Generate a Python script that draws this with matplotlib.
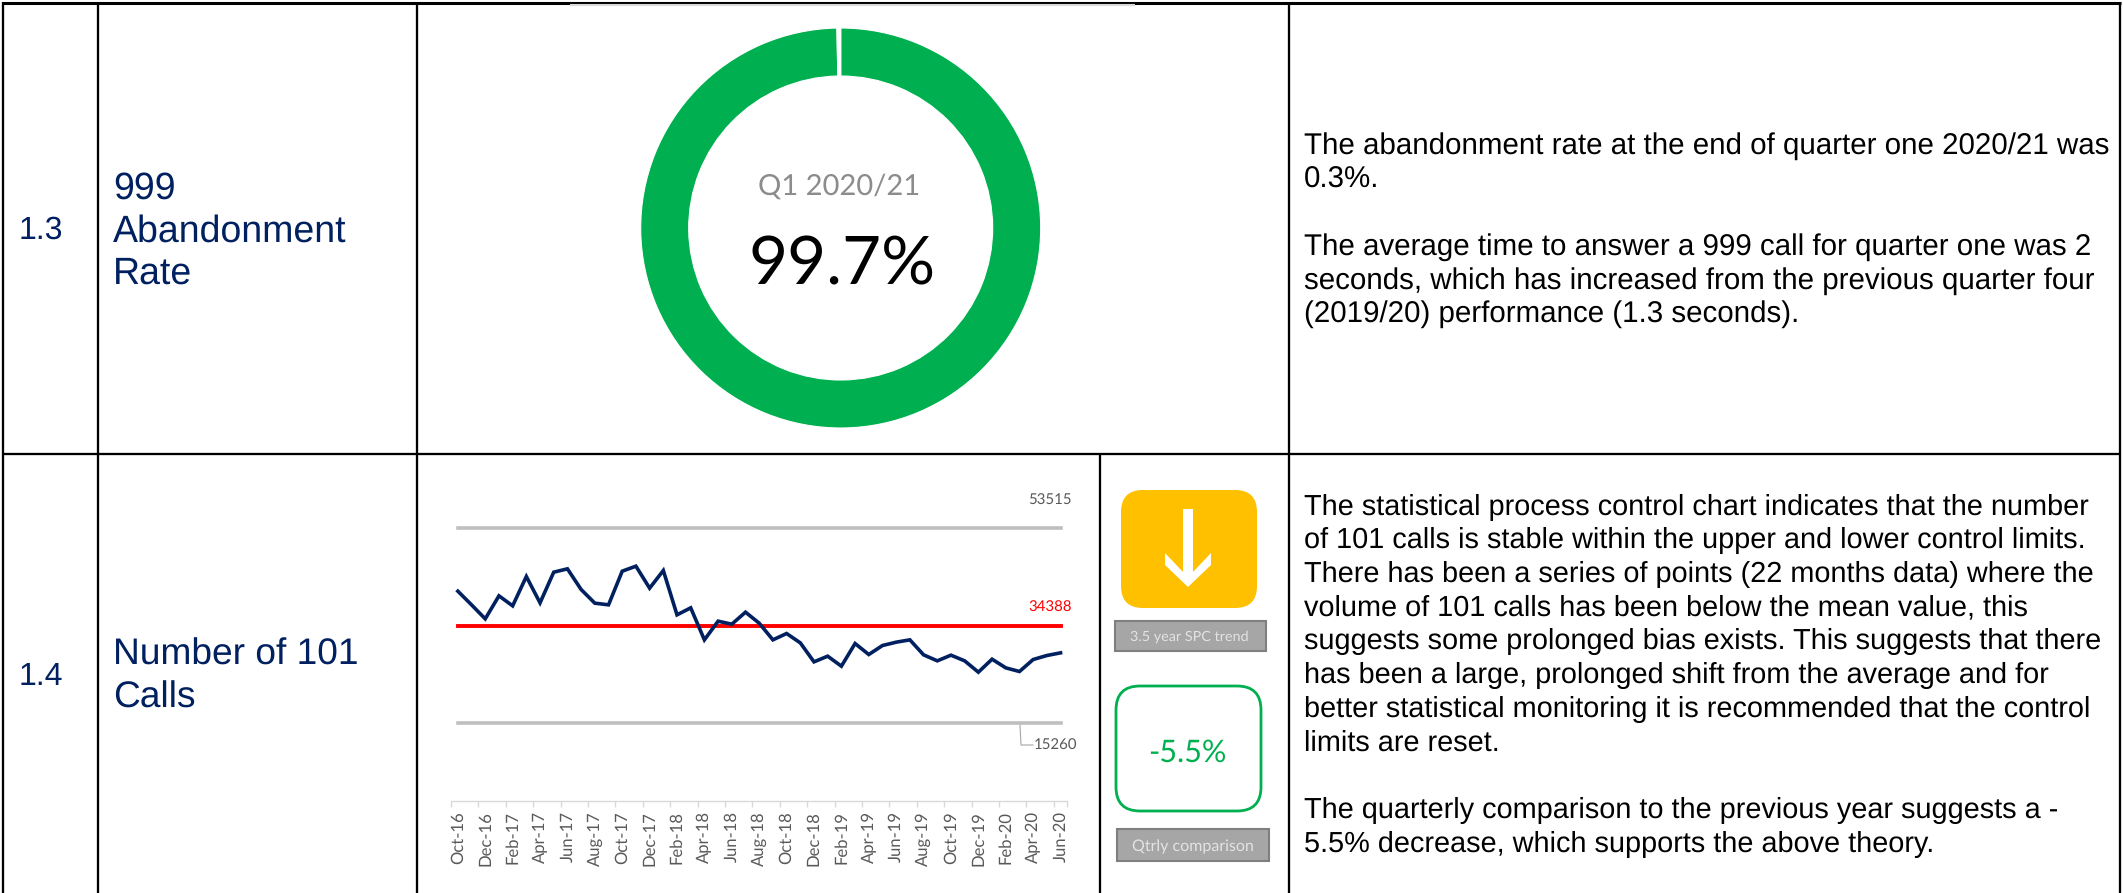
import matplotlib
matplotlib.use("Agg")
import matplotlib.pyplot as plt
from matplotlib.patches import FancyBboxPatch, Rectangle, Polygon

plt.rcParams["text.hinting"] = "no_hinting"

W, H = 2123, 893
NAVY = "#002060"
GREEN = "#00B050"

months = ["Oct-16","Nov-16","Dec-16","Jan-17","Feb-17","Mar-17","Apr-17","May-17","Jun-17","Jul-17","Aug-17","Sep-17",
          "Oct-17","Nov-17","Dec-17","Jan-18","Feb-18","Mar-18","Apr-18","May-18","Jun-18","Jul-18","Aug-18","Sep-18",
          "Oct-18","Nov-18","Dec-18","Jan-19","Feb-19","Mar-19","Apr-19","May-19","Jun-19","Jul-19","Aug-19","Sep-19",
          "Oct-19","Nov-19","Dec-19","Jan-20","Feb-20","Mar-20","Apr-20","May-20","Jun-20"]
calls = [41124,38443,35696,40209,38247,44002,38835,44852,45506,41451,38770,38443,
         45048,46029,41713,45179,36481,37854,31576,35238,34650,37004,34846,31576,
         32818,30987,27259,28371,26409,30856,28698,30464,31118,31576,28633,27456,
         28567,27456,25232,27783,26082,25363,27717,28502,29025]
ucl = 53515
mean = 34388
lcl = 15260
donut_values = [99.7, 0.3]
donut_period = "Q1 2020/21"
qtr_change = "-5.5%"
trend_label = "3.5 year SPC trend"
qtr_label = "Qtrly comparison"

row_13_number = "1.3"
row_13_title = ["999", "Abandonment", "Rate"]
row_13_text = ["The abandonment rate at the end of quarter one 2020/21 was", "0.3%.", "",
               "The average time to answer a 999 call for quarter one was 2",
               "seconds, which has increased from the previous quarter four",
               "(2019/20) performance (1.3 seconds)."]
row_14_number = "1.4"
row_14_title = ["Number of 101", "Calls"]
row_14_text = ["The statistical process control chart indicates that the number",
               "of 101 calls is stable within the upper and lower control limits.",
               "There has been a series of points (22 months data) where the",
               "volume of 101 calls has been below the mean value, this",
               "suggests some prolonged bias exists. This suggests that there",
               "has been a large, prolonged shift from the average and for",
               "better statistical monitoring it is recommended that the control",
               "limits are reset.", "",
               "The quarterly comparison to the previous year suggests a -",
               "5.5% decrease, which supports the above theory."]

fig = plt.figure(figsize=(W / 100, H / 100), dpi=100, facecolor="white")


def px_axes(x0, y0, x1, y1, **kw):
    return fig.add_axes([x0 / W, 1 - y1 / H, (x1 - x0) / W, (y1 - y0) / H], **kw)


ov = fig.add_axes([0, 0, 1, 1])
ov.set_xlim(0, W)
ov.set_ylim(H, 0)
ov.axis("off")

# table rules
lw = 1.65
ov.plot([2, 2121], [3, 3], color="black", lw=2.2, solid_capstyle="butt")
ov.plot([570, 1135], [4.5, 4.5], color="#d9d9d9", lw=1.5, solid_capstyle="butt")
ov.plot([2, 2121], [454, 454], color="black", lw=lw, solid_capstyle="butt")
for x in (3, 98, 417, 1289, 2120):
    ov.plot([x, x], [2, H], color="black", lw=lw, solid_capstyle="butt")
ov.plot([1100, 1100], [454, H], color="black", lw=lw, solid_capstyle="butt")

ARIAL = "Liberation Sans"


def t(x, y, s, size, color="black", family=ARIAL, ha="left"):
    ov.text(x, y, s, fontsize=size, color=color, family=family, ha=ha, va="baseline")


t(19, 239, row_13_number, 23, NAVY)
t(19, 685, row_14_number, 23, NAVY)
for y, s in zip((199, 241.5, 284), row_13_title):
    t(113, y, s, 27, NAVY)
for y, s in zip((665, 708), row_14_title):
    t(113, y, s, 26.7, NAVY)
for y, s in zip((154, 188, 221, 255, 289, 322), row_13_text):
    t(1304, y, s, 21.25)
for y, s in zip((515, 548, 581.7, 615.7, 649.3, 683.3, 716.7, 751, 785, 818.3, 852.3), row_14_text):
    t(1304, y, s, 20.8)

# donut
ad = px_axes(640.7, 28, 1040.7, 428)
ad.pie(donut_values, colors=[GREEN, "white"], startangle=90, counterclock=False, radius=1,
       wedgeprops=dict(width=0.24, edgecolor="white", linewidth=0.8))
ad.set_xlim(-1, 1)
ad.set_ylim(-1, 1)
ad.set_aspect("equal")
t(839, 195, donut_period, 21, "#8c8c8c", "Lato", "center")
t(842.5, 284, f"{donut_values[0]}%", 48.5, "black", "Lato", "center")

# SPC chart: axis zero sits on the category axis line
x_pos = list(range(len(months)))
px_per_value = (723 - 528) / (ucl - lcl)
y_max = 60000
ac = px_axes(451, 800.8 - y_max * px_per_value, 1067.4, 800.8)
ac.patch.set_alpha(0)
ac.set_xlim(-0.5, len(months) - 0.5)
ac.set_ylim(0, y_max)
ac.plot(x_pos, [ucl] * len(months), color="#bfbfbf", lw=2.6)
ac.plot(x_pos, [lcl] * len(months), color="#bfbfbf", lw=2.6)
ac.plot(x_pos, [mean] * len(months), color="#ff0000", lw=2.8)
ac.plot(x_pos, calls, color=NAVY, lw=2.6, solid_joinstyle="miter")
for s in ("top", "left", "right"):
    ac.spines[s].set_visible(False)
ac.spines["bottom"].set_color("#d9d9d9")
ac.spines["bottom"].set_linewidth(1)
ac.set_yticks([])
ac.set_xticks(x_pos[::2])
ac.set_xticklabels(months[::2], rotation=90, fontsize=12, color="#595959", family="Lato")
ac.tick_params(axis="x", which="major", length=0, pad=7.5)
ac.set_xticks([p - 0.5 for p in x_pos[::2]] + [x_pos[-1] + 0.5], minor=True)
ac.tick_params(axis="x", which="minor", length=4.5, width=1, color="#d9d9d9")

t(1072, 505, str(ucl), 10.8, "#595959", "Lato", "right")
t(1072, 612, str(mean), 10.8, "#ff0000", "Lato", "right")
t(1077, 750, str(lcl), 10.8, "#595959", "Lato", "right")
ov.plot([1020, 1021, 1033], [725, 745, 745], color="#a6a6a6", lw=0.8)

# status tiles
ov.add_patch(FancyBboxPatch((1135, 504), 108, 90, boxstyle="round,pad=14,rounding_size=22",
                            fc="#FFC000", ec="none"))
ov.add_patch(Polygon([(1183, 509), (1193, 509), (1193, 572), (1211, 553), (1211, 565), (1188, 587),
                      (1165, 565), (1165, 553), (1183, 572)], closed=True, fc="white", ec="none"))
ov.add_patch(Rectangle((1115, 620.5), 151, 30, fc="#a6a6a6", ec="#7f7f7f", lw=1.5))
t(1189.5, 641, trend_label, 10.4, "#e3e3e3", "Lato", "center")

ov.add_patch(FancyBboxPatch((1131, 701), 115, 95, boxstyle="round,pad=15,rounding_size=24",
                            fc="white", ec=GREEN, lw=2))
t(1187, 762, qtr_change, 22, GREEN, "Lato", "center")
ov.add_patch(Rectangle((1117, 829), 152, 32, fc="#a6a6a6", ec="#7f7f7f", lw=1.5))
t(1193, 851, qtr_label, 11.5, "#e3e3e3", "Lato", "center")

fig.savefig("out.png", dpi=100, facecolor="white")
